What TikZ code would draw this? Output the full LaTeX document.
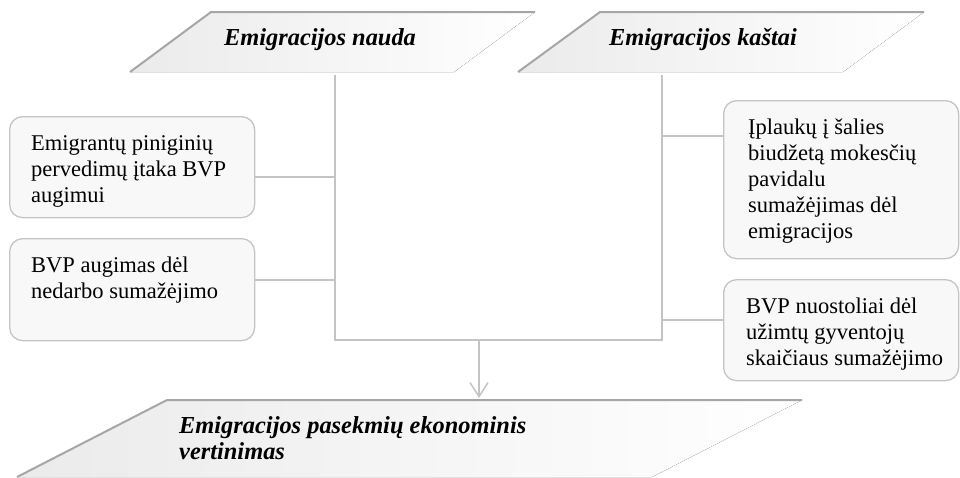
\documentclass[tikz,border=0pt]{standalone}
\usepackage{fontspec}
\setmainfont{Liberation Serif}
\usetikzlibrary{arrows.meta,calc}
\definecolor{lineg}{HTML}{C4C4C4}
\definecolor{bang}{HTML}{A6A6A6}
\definecolor{boxfill}{HTML}{F8F8F8}
\tikzset{
 box/.style={draw=lineg, line width=1.3pt, rounded corners=13pt, fill=boxfill, inner sep=0pt, anchor=north west},
 txt/.style={anchor=north west, inner sep=0pt, align=left, font=\fontsize{22.5}{26}\selectfont},
 ttl/.style={anchor=base, inner sep=0pt, font=\fontsize{24.4}{29}\selectfont\bfseries\itshape},
 ttlb/.style={anchor=north west, inner sep=0pt, align=left, font=\fontsize{24.4}{26}\selectfont\bfseries\itshape},
 conn/.style={draw=lineg, line width=1.5pt},
 bedge/.style={draw=bang, line width=2pt},
 bfill/.style={left color=black!8, middle color=black!6, right color=white},
}
\newcommand{\tl}{\rule{0pt}{20pt}}
\begin{document}
\begin{tikzpicture}[x=1pt,y=-1pt]
\useasboundingbox (0,0) rectangle (960,477);
% banners
\fill[bfill] (130,72) -- (211,12) -- (535,12) -- (454,72) -- cycle;
\draw[bedge] (130,72) -- (211,12) -- (535,12);
\node[ttl] (nauda) at (320,45) {Emigracijos nauda};
\fill[bfill] (518,72) -- (600,12) -- (924,12) -- (843,72) -- cycle;
\draw[bedge] (518,72) -- (600,12) -- (924,12);
\node[ttl] (kastai) at (703,45) {Emigracijos kaštai};
\fill[bfill] (17,477) -- (167,400) -- (802,400) -- (652,477) -- cycle;
\draw[bedge] (17,477) -- (167,400) -- (802,400);
\node[ttlb] (vert) at (179,413) {\tl Emigracijos pasekmių ekonominis\\vertinimas};
% boxes
\node[box, minimum width=245pt, minimum height=101pt] (b1) at (9,116) {};
\node[txt] (t1) at (31,130) {\tl Emigrantų piniginių\\pervedimų įtaka BVP\\augimui};
\node[box, minimum width=245pt, minimum height=102pt] (b2) at (9,238) {};
\node[txt] (t2) at (31,252) {\tl BVP augimas dėl\\nedarbo sumažėjimo};
\node[box, minimum width=235pt, minimum height=158pt] (b3) at (723,100) {};
\node[txt] (t3) at (748,114) {\tl Įplaukų į šalies\\biudžetą mokesčių\\pavidalu\\sumažėjimas dėl\\emigracijos};
\node[box, minimum width=235pt, minimum height=101pt] (b4) at (723,279) {};
\node[txt] (t4) at (746,293) {\tl BVP nuostoliai dėl\\užimtų gyventojų\\skaičiaus sumažėjimo};
% frame
\coordinate (ftl) at (335,75);
\coordinate (fbl) at (335,340);
\coordinate (fbr) at (662,340);
\coordinate (ftr) at (662,75);
\draw[conn] (ftl) -- (fbl) -- (fbr) -- (ftr);
\coordinate (l1) at (335,177);
\coordinate (l2) at (335,280);
\coordinate (r1) at (662,136);
\coordinate (r2) at (662,320);
\draw[conn] (b1.east |- l1) -- (l1);
\draw[conn] (b2.east |- l2) -- (l2);
\draw[conn] (r1) -- (b3.west |- r1);
\draw[conn] (r2) -- (b4.west |- r2);
\coordinate (as) at (479,340);
\coordinate (ae) at (479,398);
\draw[conn, -{Straight Barb[length=14pt,width=18pt]}] (as) -- (ae);
\end{tikzpicture}
\end{document}
